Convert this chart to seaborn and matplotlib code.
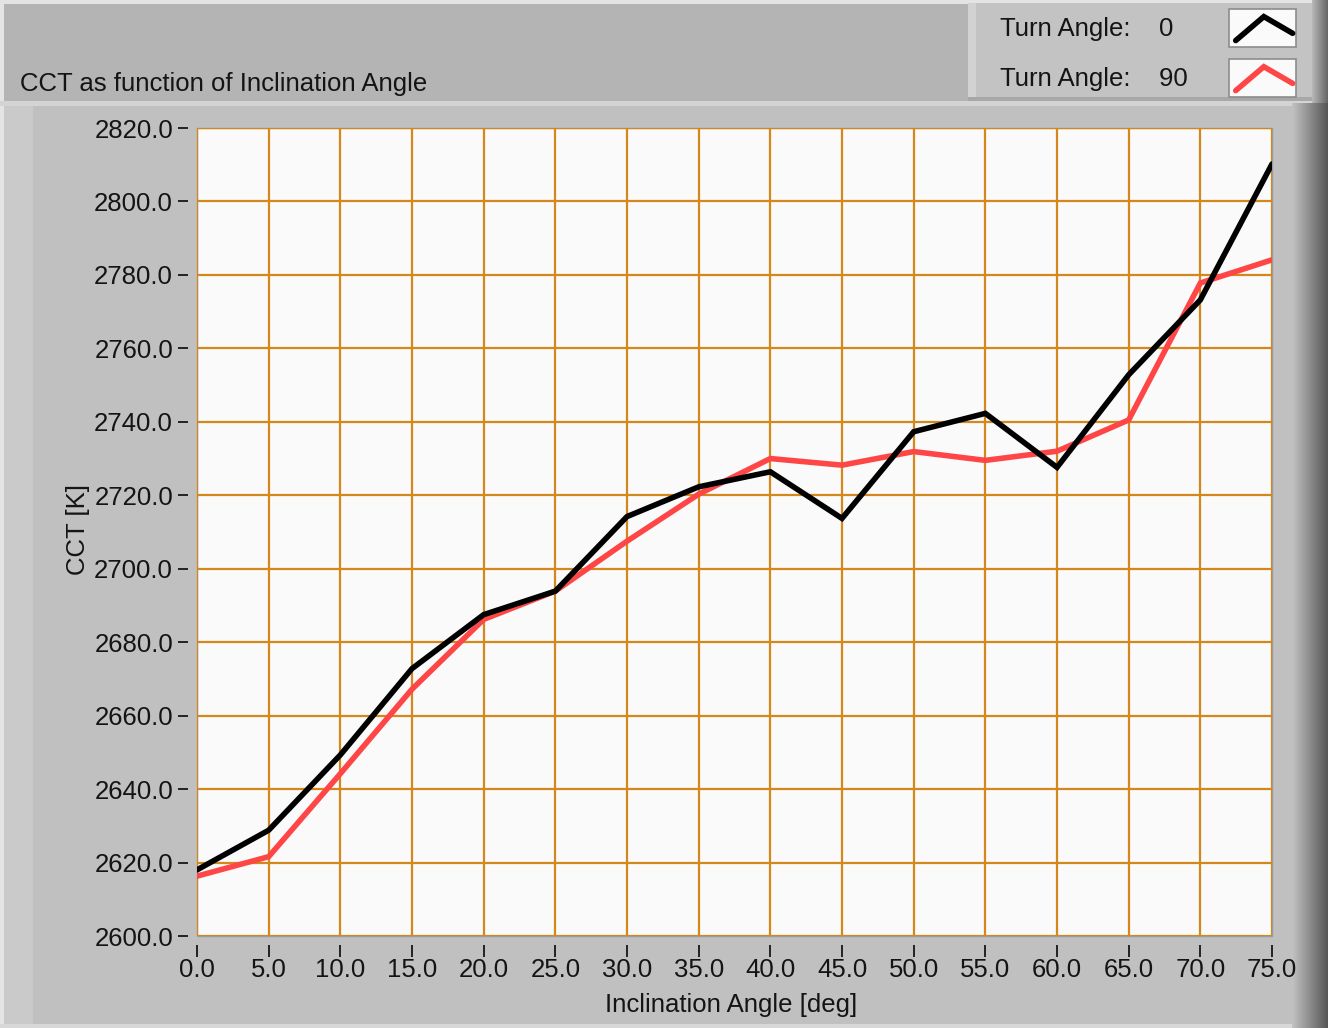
import numpy as np
import pandas as pd
import matplotlib
matplotlib.use("Agg")
import matplotlib.pyplot as plt
import seaborn as sns
from matplotlib.patches import Rectangle
from matplotlib.lines import Line2D
from matplotlib.legend_handler import HandlerBase

# ---------------- data ----------------
inclination = [0, 5, 10, 15, 20, 25, 30, 35, 40, 45, 50, 55, 60, 65, 70, 75]
cct_turn0 = [2618.0, 2628.8, 2649.3, 2672.8, 2687.5, 2693.9, 2714.2, 2722.3,
             2726.4, 2713.7, 2737.3, 2742.3, 2727.6, 2752.8, 2773.2, 2810.2]
cct_turn90 = [2616.3, 2621.6, 2644.2, 2667.2, 2686.2, 2693.9, 2707.5, 2720.3,
              2730.0, 2728.2, 2731.9, 2729.5, 2732.0, 2740.5, 2777.8, 2784.1]
turn_angles = ["0", "90"]
series_colors = {"0": "#000000", "90": "#ff4646"}
y_ticks = [2600, 2620, 2640, 2660, 2680, 2700, 2720, 2740, 2760, 2780, 2800, 2820]
x_ticks = [0, 5, 10, 15, 20, 25, 30, 35, 40, 45, 50, 55, 60, 65, 70, 75]
title = "CCT as function of Inclination Angle"
x_label = "Inclination Angle [deg]"
y_label = "CCT [K]"

df = pd.DataFrame({
    "Inclination": inclination * 2,
    "CCT": cct_turn0 + cct_turn90,
    "Turn": [turn_angles[0]] * len(inclination) + [turn_angles[1]] * len(inclination),
})

# ---------------- style ----------------
W, H = 1328, 1028
sns.set_theme(style="white")
plt.rcParams["font.family"] = ["Liberation Sans", "DejaVu Sans"]
FS = 18.5
TXT = "#141414"

fig = plt.figure(figsize=(W / 100, H / 100), dpi=100, facecolor="#c0c0c0")


def rect(x0, y0, x1, y1, color, z=-5):
    fig.add_artist(Rectangle((x0 / W, 1 - y1 / H), (x1 - x0) / W, (y1 - y0) / H,
                             transform=fig.transFigure, facecolor=color,
                             edgecolor="none", zorder=z))


# panel backgrounds (LabVIEW-like frame)
rect(0, 0, W, 103, "#b4b4b4")
rect(0, 0, W, 4, "#e4e4e4")
rect(0, 0, 4, H, "#e4e4e4")
rect(0, 101, W, 106, "#d4d4d4")
rect(4, 106, 33, H, "#cacaca")
rect(0, H - 4, W, H, "#d8d8d8")
# legend panel
rect(968, 3, 1312, 101, "#c3c3c3", z=-4)
rect(968, 3, 976, 101, "#d2d2d2", z=-3)
rect(968, 97, 1312, 101, "#a8a8a8", z=-3)

# right-hand gradient edge
gax = fig.add_axes([1292 / W, 0, (W - 1292) / W, 1 - 103 / H], zorder=-2)
grad = np.linspace(0.76, 0.34, 64)[None, :]
gax.imshow(np.repeat(grad, 2, axis=0), aspect="auto", cmap="gray", vmin=0, vmax=1)
gax.set_axis_off()
gax2 = fig.add_axes([1312 / W, 1 - 103 / H, (W - 1312) / W, 103 / H], zorder=-2)
grad2 = np.linspace(0.72, 0.40, 32)[None, :]
gax2.imshow(np.repeat(grad2, 2, axis=0), aspect="auto", cmap="gray", vmin=0, vmax=1)
gax2.set_axis_off()

# ---------------- main axes ----------------
ax = fig.add_axes([197 / W, 1 - 936 / H, 1075 / W, 808 / H])
ax.set_facecolor("#fafafa")

sns.lineplot(data=df, x="Inclination", y="CCT", hue="Turn",
             hue_order=[turn_angles[1], turn_angles[0]],
             palette=series_colors, linewidth=4.0, legend=False, ax=ax,
             zorder=3)
for ln in ax.get_lines():
    ln.set_solid_joinstyle("miter")

ax.set_xlim(0, 75)
ax.set_ylim(2600, 2820)
ax.set_xticks(x_ticks)
ax.set_yticks(y_ticks)
ax.set_xticklabels([f"{v:.1f}" for v in x_ticks])
ax.set_yticklabels([f"{v:.1f}" for v in y_ticks])

ax.grid(True, color="#d4881c", linewidth=1.6)
ax.set_axisbelow(True)
for t in (ax.xaxis.get_major_ticks()[0], ax.xaxis.get_major_ticks()[-1],
          ax.yaxis.get_major_ticks()[0], ax.yaxis.get_major_ticks()[-1]):
    t.gridline.set_visible(False)

ax.spines["left"].set_position(("outward", 6.5))
ax.spines["bottom"].set_position(("outward", 6.5))
for s in ax.spines.values():
    s.set_visible(False)
ax.patch.set_edgecolor("#9c9c9c")
ax.patch.set_linewidth(1.0)

ax.tick_params(axis="y", left=True, direction="out", length=7.2, width=1.4,
               color="#222222", pad=3.5, labelsize=FS, labelcolor=TXT)
ax.tick_params(axis="x", bottom=True, direction="out", length=8.6, width=1.4,
               color="#222222", pad=1, labelsize=FS, labelcolor=TXT)

ax.set_xlabel(x_label, fontsize=FS, color=TXT)
ax.xaxis.set_label_coords(0.497, -0.070)
ax.set_ylabel(y_label, fontsize=FS, color=TXT)
ax.yaxis.set_label_coords(-0.100, 0.5025)

fig.text(20 / W, 1 - 91 / H, title, ha="left", va="baseline",
         fontsize=FS, color=TXT)


# ---------------- legend ----------------
class ChevronHandler(HandlerBase):
    def __init__(self, color):
        super().__init__()
        self.color = color

    def create_artists(self, legend, orig_handle, xdescent, ydescent,
                       width, height, fontsize, trans):
        x0, y0 = -xdescent, -ydescent
        box = Rectangle((x0, y0), width, height, facecolor="#fafafa",
                        edgecolor="#8c8c8c", linewidth=1.2, transform=trans)
        xs = [x0 + width * 0.10, x0 + width * 0.52, x0 + width * 0.95]
        ys = [y0 + height * 0.17, y0 + height * 0.80, y0 + height * 0.36]
        line = Line2D(xs, ys, color=self.color, linewidth=4.0,
                      solid_joinstyle="miter", transform=trans)
        return [box, line]


handles = [Line2D([], [], color=series_colors[t]) for t in turn_angles]
# trailing spaces keep the numbers left-aligned (one digit = two spaces)
labels = ["Turn Angle:    0  ", "Turn Angle:    90"]
em = FS * 100 / 72
target_h = 38.0
hh = (target_h / em - 0.245) / 0.65
fig.legend(handles, labels, loc="upper right",
           bbox_to_anchor=(1296 / W, 1 - 9 / H),
           handler_map={h: ChevronHandler(h.get_color()) for h in handles},
           markerfirst=False, frameon=False, fontsize=FS,
           handlelength=67 / em, handleheight=hh, handletextpad=1.6,
           labelspacing=0.47, borderpad=0.0, borderaxespad=0.0,
           labelcolor=TXT)

fig.savefig("out.png", dpi=100, facecolor=fig.get_facecolor())
